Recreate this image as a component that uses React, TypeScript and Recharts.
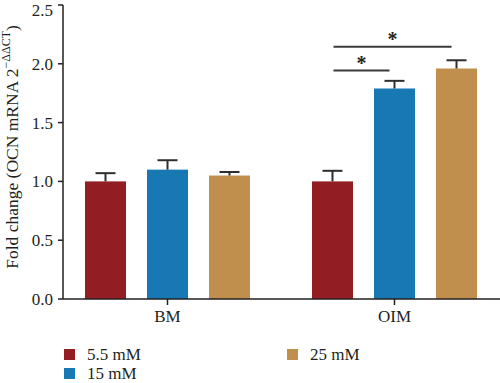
import React from 'react';
import { BarChart, Bar, XAxis, YAxis, Legend, LabelList, Label } from 'recharts';

const groups = ['BM', 'OIM'];
const seriesNames = ['5.5 mM', '15 mM', '25 mM'];
const seriesColors = ['#921d23', '#1878b4', '#c08f4d'];
const mean55 = [1.0, 1.0];
const mean15 = [1.1, 1.79];
const mean25 = [1.05, 1.96];
const sem55 = [0.07, 0.09];
const sem15 = [0.08, 0.065];
const sem25 = [0.03, 0.07];
const yTicks = [0, 0.5, 1, 1.5, 2, 2.5];
// significance brackets: group, from/to series index, height in fold change
const sigBrackets = [
  { group: 'OIM', from: 0, to: 2, y: 2.146, mark: '*' },
  { group: 'OIM', from: 0, to: 1, y: 1.942, mark: '*' },
];

const data = groups.map((g, i) => ({
  group: g,
  c55: mean55[i],
  c15: mean15[i],
  c25: mean25[i],
  e55: sem55[i],
  e15: sem15[i],
  e25: sem25[i],
}));

const FONT = '"Liberation Serif", "Times New Roman", serif';
const INK = '#231f20';
const BAR_GAP = 21;

// bar with an upper-only error whisker
const barWithErr = (errKey: string) => (props: any) => {
  const { x, y, width, height, fill, payload, value } = props;
  const v = Array.isArray(value) ? value[1] - value[0] : value;
  const perUnit = v ? height / v : 0;
  const top = y - payload[errKey] * perUnit;
  const cx = x + width / 2;
  return (
    <g>
      <rect x={x} y={y} width={width} height={height} fill={fill} />
      <line x1={cx} y1={y} x2={cx} y2={top} stroke="#2e2e2e" strokeWidth={2} />
      <line x1={cx - 10} y1={top} x2={cx + 10} y2={top} stroke="#2e2e2e" strokeWidth={2} />
    </g>
  );
};

// drawn from the last series' bar: sibling bars sit one (width + gap) step to the left
const Brackets = (props: any) => {
  const { x, y, width, height, value, index } = props;
  const g = groups[index];
  const list = sigBrackets.filter((b) => b.group === g);
  if (!list.length) return null;
  const v = Array.isArray(value) ? value[1] : value;
  const perUnit = height / v;
  const base = y + height;
  const step = width + BAR_GAP;
  const last = seriesNames.length - 1;
  const center = (s: number) => x + width / 2 - (last - s) * step;
  return (
    <g>
      {list.map((b, i) => {
        const x1 = center(b.from) + 1;
        const x2 = center(b.to) - 5;
        const yy = base - b.y * perUnit;
        return (
          <g key={i}>
            <line x1={x1} y1={yy} x2={x2} y2={yy} stroke="#3a3a3a" strokeWidth={2} />
            <text x={(x1 + x2) / 2} y={yy - 1} textAnchor="middle" fontFamily={FONT} fontSize={20} fontWeight="bold" fill={INK}>
              {b.mark}
            </text>
          </g>
        );
      })}
    </g>
  );
};

const YTitle = (props: any) => {
  const vb = props.viewBox || {};
  const cy = vb.y + vb.height / 2 - 5;
  return (
    <text
      x={12}
      y={cy}
      transform={`rotate(-90, 12, ${cy})`}
      textAnchor="middle"
      dominantBaseline="central"
      fontFamily={FONT}
      fontSize={17.5}
      fill={INK}
    >
      Fold change (OCN mRNA 2
      <tspan fontSize={12} dy={-6}>−ΔΔCT</tspan>
      <tspan dy={6}>)</tspan>
    </text>
  );
};

const renderLegend = (props: any) => {
  const items = [...(props.payload || [])].sort(
    (a: any, b: any) => seriesNames.indexOf(a.value) - seriesNames.indexOf(b.value)
  );
  return (
    <div
      style={{
        display: 'grid',
        gridAutoFlow: 'column',
        gridTemplateRows: '19px 19px',
        gridTemplateColumns: '223px 120px',
        fontFamily: FONT,
        fontSize: 17,
        color: INK,
      }}
    >
      {items.map((it: any) => (
        <div key={it.value} style={{ display: 'flex', alignItems: 'center', height: 19 }}>
          <span style={{ display: 'inline-block', width: 11, height: 11, background: it.color, marginRight: 12 }} />
          <span>{it.value}</span>
        </div>
      ))}
    </div>
  );
};

export default function App() {
  return (
    <div style={{ position: 'absolute', left: 0, top: 0, background: '#fff' }}>
      <BarChart
        width={500}
        height={383}
        data={data}
        margin={{ top: 5, right: 0, bottom: 0, left: 0 }}
        barSize={41}
        barGap={BAR_GAP}
      >
        <XAxis
          dataKey="group"
          height={84}
          padding={{ left: -9, right: -8 }}
          axisLine={{ stroke: INK, strokeWidth: 1.5 }}
          tickLine={{ stroke: INK, strokeWidth: 1.5 }}
          tickSize={6}
          tickMargin={5}
          tick={{ fill: INK, fontFamily: FONT, fontSize: 17 }}
        />
        <YAxis
          width={63}
          domain={[0, 2.5]}
          ticks={yTicks}
          tickFormatter={(v: number) => v.toFixed(1)}
          axisLine={{ stroke: INK, strokeWidth: 1.5 }}
          tickLine={{ stroke: INK, strokeWidth: 1.5 }}
          tickSize={5}
          tickMargin={5}
          tick={{ fill: INK, fontFamily: FONT, fontSize: 17 }}
        >
          <Label content={<YTitle />} />
        </YAxis>
        <Legend
          layout="horizontal"
          verticalAlign="middle"
          content={renderLegend}
          wrapperStyle={{ left: 64, top: 345, width: 360, height: 40 }}
        />
        <Bar dataKey="c55" name={seriesNames[0]} fill={seriesColors[0]} shape={barWithErr('e55')} isAnimationActive={false} />
        <Bar dataKey="c15" name={seriesNames[1]} fill={seriesColors[1]} shape={barWithErr('e15')} isAnimationActive={false} />
        <Bar dataKey="c25" name={seriesNames[2]} fill={seriesColors[2]} shape={barWithErr('e25')} isAnimationActive={false}>
          <LabelList dataKey="c25" content={<Brackets />} />
        </Bar>
      </BarChart>
    </div>
  );
}
